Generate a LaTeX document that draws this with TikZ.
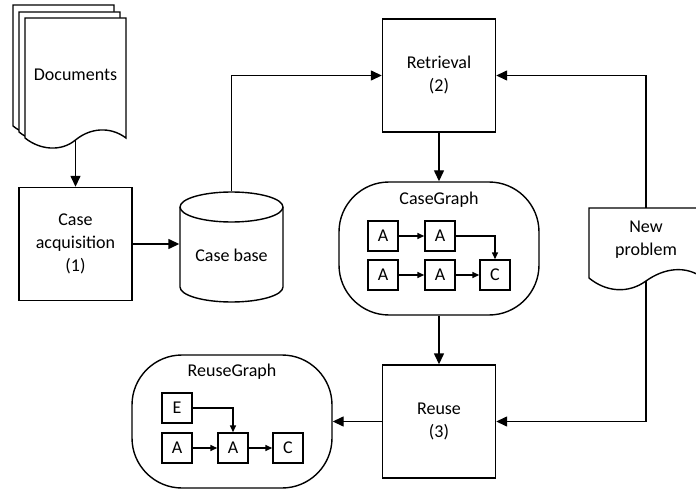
\documentclass[tikz,border=0pt]{standalone}
\usepackage{fontspec}
\setmainfont{Carlito}
\usetikzlibrary{arrows.meta}

\begin{document}
\begin{tikzpicture}[x=1pt,y=-1pt,line width=1.4pt,
        font=\fontsize{18}{23}\selectfont,
        stepbox/.style={draw,rectangle,minimum width=113pt,minimum height=113pt,align=center},
        graphbox/.style={draw,rectangle,rounded corners=50pt,minimum width=200pt,minimum height=133pt},
        itembox/.style={draw,rectangle,minimum width=30pt,minimum height=30pt,inner sep=0pt},
        flow/.style={-{Triangle[length=11pt,width=10pt]}},
        link/.style={-{Triangle[length=7pt,width=6pt]}}]
        \useasboundingbox (0,0) rectangle (696,489);
        \clip (0,0) rectangle (696,489);

        \draw [fill=white] (13,5) -- (114,5) -- (114,126) .. controls (98,114) and (78,116) .. (63.5,128) .. controls (49,140) and (28,138) .. (13,126) -- cycle;
        \draw [fill=white] (19,12) -- (120,12) -- (120,132) .. controls (104,120) and (84,122) .. (69.5,134) .. controls (55,146) and (34,144) .. (19,132) -- cycle;
        \draw [fill=white] (25,18) -- (126,18) -- (126,138) .. controls (110,126) and (90,128) .. (75.5,140) .. controls (61,152) and (40,150) .. (25,138) -- cycle;
        \node (docs) at (75.5,75) {Documents};
        \coordinate (docsend) at (75.5,140);

        \node [stepbox] (caseacq) at (75.5,244) {Case\\acquisition\\(1)};

        \draw [fill=white] (180,207) -- (180,287) arc (180:360:51.5pt and 15pt) -- (283,207) arc (0:180:51.5pt and 15pt) -- cycle;
        \draw (180,207) arc (180:360:51.5pt and 15pt);
        \node [minimum width=103pt,minimum height=110pt] (casebase) at (231.5,247) {};
        \node (casebaselabel) at (231.5,255) {Case base};

        \node [stepbox] (retrieval) at (439,75.5) {Retrieval\\(2)};
        \node [stepbox] (reuse) at (439,421.5) {Reuse\\(3)};

        \node [graphbox] (casegraph) at (439,248.5) {};
        \node (casegraphtitle) at (439,200) {CaseGraph};
        \node [itembox] (ca1) at (383,236) {A};
        \node [itembox] (ca2) at (440,236) {A};
        \node [itembox] (ca3) at (383,275) {A};
        \node [itembox] (ca4) at (440,275) {A};
        \node [itembox] (cc) at (495,275) {C};
        \draw [link] (ca1) -- (ca2);
        \draw [link] (ca2.east) -| (cc.north);
        \draw [link] (ca3) -- (ca4);
        \draw [link] (ca4) -- (cc);

        \node [graphbox] (reusegraph) at (232,421.5) {};
        \node (reusegraphtitle) at (232,372) {ReuseGraph};
        \node [itembox] (re) at (177,408) {E};
        \node [itembox] (ra1) at (177,448) {A};
        \node [itembox] (ra2) at (233,448) {A};
        \node [itembox] (rc) at (288,448) {C};
        \draw [link] (re.east) -| (ra2.north);
        \draw [link] (ra1) -- (ra2);
        \draw [link] (ra2) -- (rc);

        \draw [fill=white] (589,208) -- (703,208) -- (703,278) .. controls (686,265) and (664,268) .. (646,281) .. controls (628,294) and (606,292) .. (589,278) -- cycle;
        \node [align=center] (newprob) at (646,240) {New\\problem};
        \coordinate (probtop) at (646,208);
        \coordinate (probend) at (646,281);

        \draw [flow] (docsend) -- (caseacq);
        \draw [flow] (caseacq.east) -- (caseacq.east -| casebase.west);
        \draw [flow] (casebase.north) |- (retrieval.west);
        \draw [flow] (retrieval) -- (casegraph);
        \draw [flow] (casegraph) -- (reuse);
        \draw [flow] (reuse) -- (reusegraph);
        \draw [flow] (probtop) |- (retrieval.east);
        \draw [flow] (probend) |- (reuse.east);
    \end{tikzpicture}
\end{document}
